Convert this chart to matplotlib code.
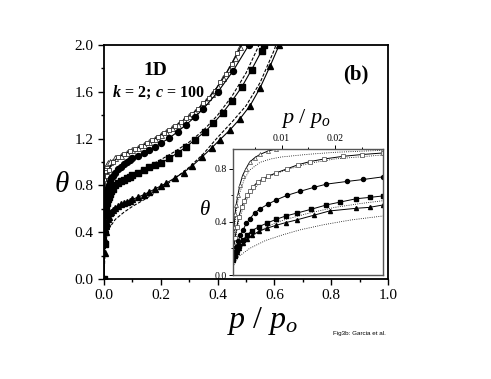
import matplotlib
matplotlib.use("Agg")
import matplotlib.pyplot as plt
from matplotlib.ticker import MultipleLocator, FormatStrFormatter

plt.rcParams['font.family'] = ['Liberation Serif', 'DejaVu Serif']
plt.rcParams['mathtext.fontset'] = 'custom'
plt.rcParams['mathtext.rm'] = 'Liberation Serif'
plt.rcParams['mathtext.it'] = 'Liberation Serif:italic'
plt.rcParams['mathtext.bf'] = 'Liberation Serif:bold:italic'
plt.rcParams['mathtext.sf'] = 'Liberation Serif:bold'

# ---- main panel: symbols (simulation) ----
p_otri = [0, .002, .004, .006, .008, .01, .015, .02, .04, .06, .08, .10, .12, .14, .16, .18,
          .20, .22, .24, .26, .28, .30, .32, .34, .36, .38, .40, .42, .44, .46, .48]
t_otri = [0, .58, .85, .93, .96, .975, .99, 1.0, 1.03, 1.055, 1.075, 1.10, 1.12, 1.145, 1.17, 1.20,
          1.23, 1.26, 1.29, 1.32, 1.355, 1.39, 1.43, 1.475, 1.525, 1.58, 1.645, 1.715, 1.795, 1.885, 1.98]

p_osq = [0, .003, .006, .009, .012, .016, .03, .05, .07, .09, .11, .13, .15, .17, .19, .21,
         .23, .25, .27, .29, .31, .33, .35, .37, .39, .41, .43, .45, .47, .49]
t_osq = [0, .45, .70, .82, .88, .93, 1.0, 1.04, 1.065, 1.09, 1.11, 1.135, 1.16, 1.185, 1.215, 1.245,
         1.275, 1.305, 1.34, 1.375, 1.41, 1.45, 1.50, 1.55, 1.61, 1.68, 1.755, 1.84, 1.93, 2.03]

p_circ = [0, .002, .004, .006, .008, .01, .013, .016, .02, .025, .03, .04, .05, .06, .07, .08, .09,
          .10, .12, .14, .16, .18, .20, .23, .26, .29, .32, .35, .40, .455, .51]
t_circ = [0, .40, .60, .68, .72, .75, .78, .80, .83, .86, .88, .91, .94, .96, .98, 1.0, 1.015,
          1.03, 1.055, 1.08, 1.105, 1.13, 1.16, 1.205, 1.26, 1.32, 1.385, 1.455, 1.595, 1.78, 2.0]

p_fsq = [0, .002, .004, .006, .008, .01, .013, .016, .02, .025, .03, .04, .05, .06, .07, .08, .09,
         .10, .12, .14, .16, .18, .20, .23, .26, .29, .32, .356, .385, .418, .45, .485, .52, .555, .565]
t_fsq = [0, .30, .45, .55, .61, .65, .68, .70, .73, .75, .77, .80, .82, .835, .85, .86, .875,
         .885, .91, .935, .96, .975, .99, 1.03, 1.08, 1.13, 1.19, 1.26, 1.33, 1.42, 1.52, 1.64, 1.79, 1.95, 2.0]

p_ftri = [0, .002, .004, .006, .008, .01, .013, .016, .02, .025, .03, .04, .05, .06, .07, .08, .09,
          .10, .12, .14, .16, .18, .20, .22, .25, .28, .31, .344, .379, .408, .444, .479, .514, .549, .585, .617]
t_ftri = [0, .22, .33, .40, .45, .48, .51, .53, .56, .575, .59, .61, .625, .64, .65, .66, .67,
          .68, .70, .72, .745, .77, .795, .82, .865, .91, .965, 1.04, 1.12, 1.19, 1.275, 1.37, 1.48, 1.63, 1.82, 2.0]

# ---- main panel: broken lines (approximations) ----
p_dot_top = [0, .005, .01, .02, .05, .1, .15, .2, .25, .3, .35, .4, .45, .5]
t_dot_top = [0, .80, .93, .98, 1.03, 1.09, 1.15, 1.22, 1.295, 1.38, 1.49, 1.635, 1.83, 2.08]

p_dash_sq = [0, .005, .01, .02, .05, .1, .15, .2, .25, .3, .35, .4, .45, .5, .55]
t_dash_sq = [0, .50, .63, .72, .82, .89, .955, 1.02, 1.09, 1.17, 1.27, 1.40, 1.56, 1.76, 2.02]

p_dash_tri = [0, .003, .006, .01, .02, .04, .07, .1, .15, .2, .25, .3, .35, .4, .45, .5, .55, .6, .605]
t_dash_tri = [0, .20, .30, .37, .44, .51, .57, .62, .69, .77, .86, .955, 1.07, 1.21, 1.34, 1.48, 1.68, 1.96, 2.0]

# ---- inset ----
pi_otri = [.0009, .0011, .0013, .0015, .0018, .0022, .0027, .0033, .004, .005, .006, .0075, .009, .012]
ti_otri = [.20, .36, .46, .53, .60, .68, .75, .80, .85, .885, .91, .935, .95, .965]

pi_osq = [.0009, .0011, .0013, .0016, .002, .0025, .003, .0035, .004, .0047, .0055, .0065, .0075,
          .009, .011, .013, .0153, .018, .0216, .025, .029]
ti_osq = [.15, .22, .28, .36, .44, .51, .56, .60, .63, .667, .70, .725, .745,
          .77, .80, .83, .855, .875, .895, .908, .92]

pi_circ = [.0009, .0012, .0015, .0019, .0023, .0028, .0034, .004, .005, .006, .0075, .009, .011,
           .0134, .016, .0184, .0222, .0253, .029]
ti_circ = [.13, .17, .21, .26, .30, .34, .39, .42, .47, .50, .535, .566, .60,
           .63, .66, .685, .705, .72, .74]

pi_fsq = [.0009, .0012, .0016, .002, .0028, .0035, .0045, .0058, .0072, .009, .0108, .0128,
          .0155, .0184, .021, .024, .0265, .029]
ti_fsq = [.12, .15, .19, .22, .264, .30, .335, .365, .39, .42, .445, .466,
          .495, .528, .55, .575, .585, .596]

pi_ftri = [.0009, .0012, .0016, .002, .0028, .0035, .0045, .0058, .0072, .009, .0108, .0128,
           .016, .019, .024, .0265, .029]
ti_ftri = [.11, .14, .17, .20, .24, .27, .30, .33, .352, .375, .395, .415,
           .45, .483, .503, .51, .528]

pi_dot1 = [.0009, .0012, .0015, .002, .003, .004, .006, .008, .01, .015, .02, .029]
ti_dot1 = [.15, .35, .48, .60, .72, .79, .85, .875, .89, .91, .925, .94]

pi_dot2 = [.0009, .0012, .0016, .002, .003, .004, .006, .008, .011, .015, .02, .029]
ti_dot2 = [.12, .22, .33, .41, .53, .61, .70, .75, .795, .84, .875, .905]

pi_dot3 = [.0009, .002, .004, .007, .01, .015, .02, .025, .029]
ti_dot3 = [.10, .19, .28, .36, .41, .465, .51, .54, .56]

pi_dot4 = [.0009, .0015, .002, .004, .007, .01, .0134, .018, .023, .029]
ti_dot4 = [.06, .11, .14, .20, .26, .30, .34, .38, .415, .445]

fig = plt.figure(figsize=(4.91, 3.79), dpi=100)
ax = fig.add_axes([0.2118, 0.2639, 0.5784, 0.6174])

lw = 0.8
ax.plot(p_dot_top, t_dot_top, ':', color='k', lw=0.7)
ax.plot(p_dash_sq, t_dash_sq, '--', color='k', lw=0.8, dashes=(3, 1.5))
ax.plot(p_dash_tri, t_dash_tri, '--', color='k', lw=0.8, dashes=(3, 1.5))
ax.plot(p_otri, t_otri, '-', color='k', lw=lw, marker='^', ms=3.8, mfc='white', mec='#333333', mew=0.6)
ax.plot(p_osq, t_osq, '-', color='k', lw=lw, marker='s', ms=3.0, mfc='white', mec='#333333', mew=0.6)
ax.plot(p_circ, t_circ, '-', color='k', lw=lw, marker='o', ms=4.3, mfc='k', mec='k')
ax.plot(p_fsq, t_fsq, '-', color='k', lw=lw, marker='s', ms=3.7, mfc='k', mec='k')
ax.plot(p_ftri, t_ftri, '-', color='k', lw=lw, marker='^', ms=4.3, mfc='k', mec='k')

ax.set_xlim(0, 1.0)
ax.set_ylim(0, 2.0)
ax.xaxis.set_major_locator(MultipleLocator(0.2))
ax.xaxis.set_minor_locator(MultipleLocator(0.1))
ax.yaxis.set_major_locator(MultipleLocator(0.4))
ax.yaxis.set_minor_locator(MultipleLocator(0.2))
ax.tick_params(which='both', direction='out', top=False, right=False, labelsize=11, width=1)
ax.tick_params(which='major', length=4)
ax.tick_params(which='minor', length=2.5)
ax.xaxis.set_major_formatter(FormatStrFormatter('%.1f'))
ax.yaxis.set_major_formatter(FormatStrFormatter('%.1f'))
for s in ax.spines.values():
    s.set_linewidth(1.3)

ax.text(0.18, 0.893, '1D', transform=ax.transAxes, fontsize=14, fontweight='bold', ha='center', va='center')
ax.text(0.027, 0.797, r'$\mathbf{k}\mathsf{\,=\,2;\,}\mathbf{c}\mathsf{\,=\,100}$', transform=ax.transAxes,
        fontsize=11.5, ha='left', va='center')
ax.text(0.887, 0.872, '(b)', transform=ax.transAxes, fontsize=15, fontweight='bold', ha='center', va='center')

fig.text(62 / 491, 1 - 185 / 379, r'$\theta$', fontsize=21, ha='center', va='center')
fig.text(262 / 491, 1 - 321 / 379, r'$p\ /\ p_o$', fontsize=23, ha='center', va='center')
fig.text(333 / 491, 1 - 333 / 379, 'Fig3b: Garcia et al.', fontsize=4.5, family='Liberation Sans',
         ha='left', va='center')

# ---- inset ----
ins = fig.add_axes([0.4745, 0.2744, 0.3055, 0.3325])
ins.plot(pi_dot1, ti_dot1, ':', color='k', lw=0.6)
ins.plot(pi_dot2, ti_dot2, ':', color='k', lw=0.6)
ins.plot(pi_dot3, ti_dot3, ':', color='k', lw=0.6)
ins.plot(pi_dot4, ti_dot4, ':', color='k', lw=0.6)
ins.plot(pi_otri, ti_otri, '-', color='k', lw=0.7, marker='^', ms=2.9, mfc='white', mec='#444444', mew=0.5)
ins.plot(pi_osq, ti_osq, '-', color='k', lw=0.7, marker='s', ms=2.5, mfc='white', mec='#444444', mew=0.5)
ins.plot(pi_circ, ti_circ, '-', color='k', lw=0.7, marker='o', ms=2.9, mfc='k', mec='k')
ins.plot(pi_fsq, ti_fsq, '-', color='k', lw=0.7, marker='s', ms=2.6, mfc='k', mec='k')
ins.plot(pi_ftri, ti_ftri, '-', color='k', lw=0.7, marker='^', ms=2.9, mfc='k', mec='k')

ins.set_xlim(0.0009, 0.029)
ins.set_ylim(0, 0.95)
ins.xaxis.set_major_locator(MultipleLocator(0.01))
ins.xaxis.set_minor_locator(MultipleLocator(0.005))
ins.yaxis.set_major_locator(MultipleLocator(0.4))
ins.yaxis.set_minor_locator(MultipleLocator(0.2))
ins.xaxis.tick_top()
ins.tick_params(which='both', direction='out', labelsize=7, width=0.7, pad=1.5)
ins.tick_params(which='major', length=3)
ins.tick_params(which='minor', length=1.8)
ins.tick_params(axis='x', bottom=False, labelbottom=False)
ins.xaxis.set_major_formatter(FormatStrFormatter('%.2f'))
ins.yaxis.set_major_formatter(FormatStrFormatter('%.1f'))
for s in ins.spines.values():
    s.set_linewidth(1.0)
    s.set_color('#555555')
fig.text(306 / 491, 1 - 118 / 379, r'$p\ /\ p_o$', fontsize=16, ha='center', va='center')
fig.text(205 / 491, 1 - 210 / 379, r'$\theta$', fontsize=15, ha='center', va='center')

fig.savefig('out.png', dpi=100)
